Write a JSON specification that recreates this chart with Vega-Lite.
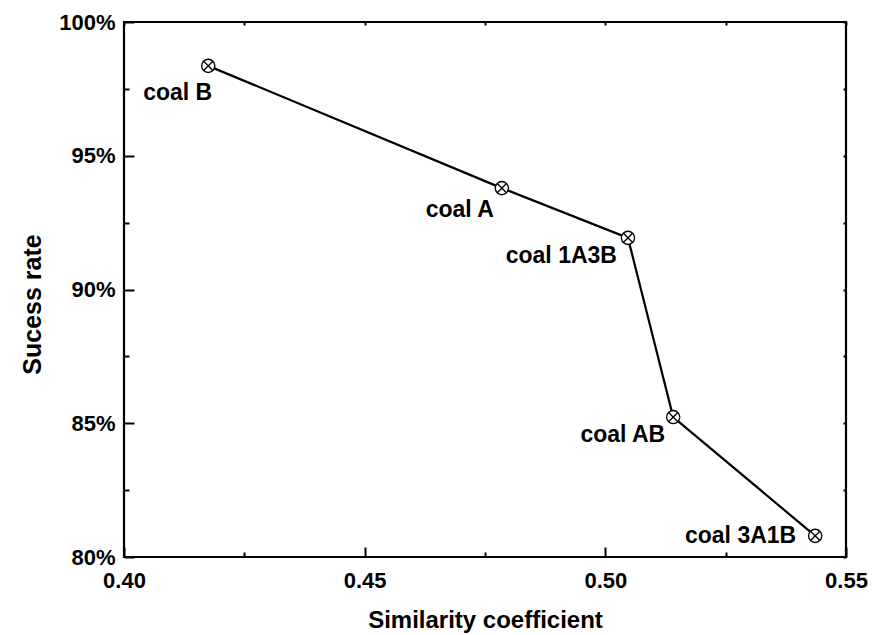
{
  "$schema": "https://vega.github.io/schema/vega-lite/v6.json",
  "width": 722,
  "height": 535,
  "autosize": "none",
  "padding": {"left": 124, "top": 22, "right": 36, "bottom": 78},
  "background": "white",
  "config": {
    "view": {"stroke": "black", "strokeWidth": 2.2},
    "font": "Liberation Sans",
    "axis": {
      "domain": false,
      "grid": false,
      "labelFlush": false,
      "labelOverlap": false,
      "tickColor": "black",
      "tickWidth": 2,
      "labelColor": "black",
      "labelFont": "Liberation Sans",
      "labelFontWeight": "bold",
      "labelFontSize": 22,
      "titleColor": "black",
      "titleFont": "Liberation Sans",
      "titleFontWeight": "bold",
      "titleFontSize": 24
    }
  },
  "data": {
    "values": [
      {"coal": "coal B", "similarity": 0.4175, "rate": 98.36},
      {"coal": "coal A", "similarity": 0.4785, "rate": 93.79},
      {"coal": "coal 1A3B", "similarity": 0.5047, "rate": 91.93},
      {"coal": "coal AB", "similarity": 0.5141, "rate": 85.23},
      {"coal": "coal 3A1B", "similarity": 0.5436, "rate": 80.79}
    ]
  },
  "layer": [
    {
      "mark": {"type": "line", "color": "black", "strokeWidth": 2.2},
      "encoding": {
        "x": {"field": "similarity", "type": "quantitative", "scale": {"domain": [0.4, 0.55], "nice": false, "zero": false},
              "axis": {"orient": "top", "values": [0.4, 0.425, 0.45, 0.475, 0.5, 0.525, 0.55], "tickSize": -3, "labels": false, "title": null}},
        "y": {"field": "rate", "type": "quantitative", "scale": {"domain": [80, 100], "nice": false, "zero": false},
              "axis": {"orient": "right", "values": [80, 82.5, 85, 87.5, 90, 92.5, 95, 97.5, 100], "tickSize": -3, "labels": false, "title": null}}
      }
    },
    {
      "mark": {"type": "point", "shape": "circle", "filled": true, "fill": "white", "stroke": "black", "strokeWidth": 1.3, "size": 175, "opacity": 1},
      "encoding": {
        "x": {"field": "similarity", "type": "quantitative",
              "axis": {"orient": "bottom", "values": [0.4, 0.425, 0.45, 0.475, 0.5, 0.525, 0.55],
                       "tickSize": {"condition": {"test": "round(datum.value*40) % 2 == 0", "value": -10}, "value": -5},
                       "labelExpr": "round(datum.value*40) % 2 == 0 ? format(datum.value, '.2f') : ''",
                       "labelPadding": 23, "title": "Similarity coefficient", "titleY": 70, "titleBaseline": "alphabetic"}},
        "y": {"field": "rate", "type": "quantitative",
              "axis": {"orient": "left", "values": [80, 82.5, 85, 87.5, 90, 92.5, 95, 97.5, 100],
                       "tickSize": {"condition": {"test": "round(datum.value/2.5) % 2 == 0", "value": -10}, "value": -5},
                       "labelExpr": "round(datum.value/2.5) % 2 == 0 ? format(datum.value, 'd') + '%' : ''",
                       "labelPadding": 19, "title": "Sucess rate", "titleFontSize": 25, "titleX": -84, "titleY": 282, "titleBaseline": "alphabetic"}}
      }
    },
    {
      "mark": {"type": "point", "shape": "M-0.7,-0.7L0.7,0.7M-0.7,0.7L0.7,-0.7", "filled": false, "stroke": "black", "strokeWidth": 1.3, "size": 175, "opacity": 1},
      "encoding": {
        "x": {"field": "similarity", "type": "quantitative", "axis": null},
        "y": {"field": "rate", "type": "quantitative", "axis": null}
      }
    },
    {
      "transform": [{"filter": "datum.coal == 'coal B'"}],
      "mark": {"type": "text", "align": "right", "baseline": "alphabetic", "dx": 4, "dy": 34, "fontSize": 23, "fontWeight": "bold", "font": "Liberation Sans", "color": "black"},
      "encoding": {"x": {"field": "similarity", "type": "quantitative", "axis": null}, "y": {"field": "rate", "type": "quantitative", "axis": null}, "text": {"field": "coal"}}
    },
    {
      "transform": [{"filter": "datum.coal == 'coal A'"}],
      "mark": {"type": "text", "align": "right", "baseline": "alphabetic", "dx": -8, "dy": 29, "fontSize": 23, "fontWeight": "bold", "font": "Liberation Sans", "color": "black"},
      "encoding": {"x": {"field": "similarity", "type": "quantitative", "axis": null}, "y": {"field": "rate", "type": "quantitative", "axis": null}, "text": {"field": "coal"}}
    },
    {
      "transform": [{"filter": "datum.coal == 'coal 1A3B'"}],
      "mark": {"type": "text", "align": "right", "baseline": "alphabetic", "dx": -11, "dy": 25, "fontSize": 23, "fontWeight": "bold", "font": "Liberation Sans", "color": "black"},
      "encoding": {"x": {"field": "similarity", "type": "quantitative", "axis": null}, "y": {"field": "rate", "type": "quantitative", "axis": null}, "text": {"field": "coal"}}
    },
    {
      "transform": [{"filter": "datum.coal == 'coal AB'"}],
      "mark": {"type": "text", "align": "right", "baseline": "alphabetic", "dx": -8, "dy": 25, "fontSize": 23, "fontWeight": "bold", "font": "Liberation Sans", "color": "black"},
      "encoding": {"x": {"field": "similarity", "type": "quantitative", "axis": null}, "y": {"field": "rate", "type": "quantitative", "axis": null}, "text": {"field": "coal"}}
    },
    {
      "transform": [{"filter": "datum.coal == 'coal 3A1B'"}],
      "mark": {"type": "text", "align": "right", "baseline": "alphabetic", "dx": -19, "dy": 7, "fontSize": 23, "fontWeight": "bold", "font": "Liberation Sans", "color": "black"},
      "encoding": {"x": {"field": "similarity", "type": "quantitative", "axis": null}, "y": {"field": "rate", "type": "quantitative", "axis": null}, "text": {"field": "coal"}}
    }
  ]
}
